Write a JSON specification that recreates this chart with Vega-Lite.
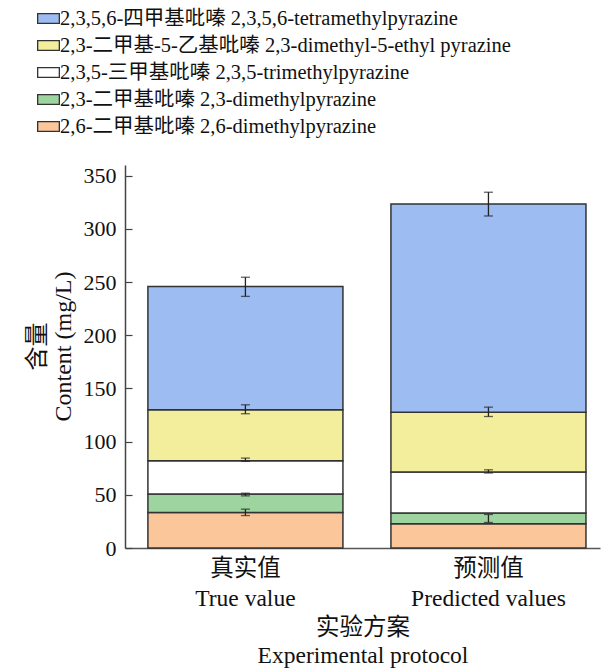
{
  "$schema": "https://vega.github.io/schema/vega-lite/v6.json",
  "width": 475,
  "height": 383,
  "padding": {"left": 125, "top": 165, "right": 5, "bottom": 123},
  "autosize": {"type": "none"},
  "background": "white",
  "config": {
    "view": {"stroke": null},
    "font": "Liberation Serif, Noto Sans CJK SC",
    "axis": {"labelFont": "Liberation Serif, Noto Sans CJK SC", "titleFont": "Liberation Serif, Noto Sans CJK SC", "labelColor": "#111", "titleColor": "#111", "titleFontWeight": "normal", "domainColor": "#444", "domainWidth": 1.5, "tickColor": "#444", "tickWidth": 1.2},
    "legend": {"labelFont": "Liberation Serif, Noto Sans CJK SC"}
  },
  "datasets": {
    "bars": [
      {"group": "真实值|True value", "comp": "2,6-二甲基吡嗪 2,6-dimethylpyrazine", "value": 33.4, "ord": 1},
      {"group": "真实值|True value", "comp": "2,3-二甲基吡嗪 2,3-dimethylpyrazine", "value": 17.3, "ord": 2},
      {"group": "真实值|True value", "comp": "2,3,5-三甲基吡嗪 2,3,5-trimethylpyrazine", "value": 31.3, "ord": 3},
      {"group": "真实值|True value", "comp": "2,3-二甲基-5-乙基吡嗪 2,3-dimethyl-5-ethyl pyrazine", "value": 47.9, "ord": 4},
      {"group": "真实值|True value", "comp": "2,3,5,6-四甲基吡嗪 2,3,5,6-tetramethylpyrazine", "value": 115.8, "ord": 5},
      {"group": "预测值|Predicted values", "comp": "2,6-二甲基吡嗪 2,6-dimethylpyrazine", "value": 22.8, "ord": 1},
      {"group": "预测值|Predicted values", "comp": "2,3-二甲基吡嗪 2,3-dimethylpyrazine", "value": 10.1, "ord": 2},
      {"group": "预测值|Predicted values", "comp": "2,3,5-三甲基吡嗪 2,3,5-trimethylpyrazine", "value": 38.5, "ord": 3},
      {"group": "预测值|Predicted values", "comp": "2,3-二甲基-5-乙基吡嗪 2,3-dimethyl-5-ethyl pyrazine", "value": 56.3, "ord": 4},
      {"group": "预测值|Predicted values", "comp": "2,3,5,6-四甲基吡嗪 2,3,5,6-tetramethylpyrazine", "value": 195.7, "ord": 5}
    ],
    "errs": [
      {"group": "真实值|True value", "low": 30.5, "high": 36.5},
      {"group": "真实值|True value", "low": 49, "high": 51.5},
      {"group": "真实值|True value", "low": 81.5, "high": 84.5},
      {"group": "真实值|True value", "low": 126.2, "high": 134.6},
      {"group": "真实值|True value", "low": 236.5, "high": 254.5},
      {"group": "预测值|Predicted values", "low": 24, "high": 31.5},
      {"group": "预测值|Predicted values", "low": 70.5, "high": 73.5},
      {"group": "预测值|Predicted values", "low": 123.6, "high": 132.4},
      {"group": "预测值|Predicted values", "low": 312.1, "high": 334.4}
    ]
  },
  "layer": [
    {
      "data": {"name": "bars"},
      "mark": {"type": "bar", "stroke": "#333", "strokeWidth": 1.5},
      "encoding": {
        "x": {
          "field": "group", "type": "nominal", "sort": null,
          "scale": {"paddingInner": 0.1975, "paddingOuter": 0.076, "align": 0.62},
          "axis": {
            "labelExpr": "split(datum.label, '|')",
            "labelAngle": 0, "labelFontSize": 23.5, "labelLineHeight": 30, "labelPadding": 15,
            "tickSize": -7, "domainColor": "#555",
            "title": ["实验方案", "Experimental protocol"], "titleFontSize": 23.5, "titleLineHeight": 28, "titlePadding": 6
          }
        },
        "y": {
          "field": "value", "type": "quantitative", "stack": "zero",
          "scale": {"domain": [0, 360], "nice": false},
          "axis": {
            "values": [0, 25, 50, 75, 100, 125, 150, 175, 200, 225, 250, 275, 300, 325, 350],
            "labelExpr": "datum.value % 50 === 0 ? datum.label : ''",
            "tickSize": {"condition": {"test": "datum.value % 50 === 0", "value": -7}, "value": -4},
            "labelFontSize": 22, "labelPadding": 16, "grid": false,
            "title": ["含量", "Content (mg/L)"], "titleFontSize": 24, "titleLineHeight": 26, "titlePadding": 8, "titleY": 181
          }
        },
        "order": {"field": "ord", "type": "quantitative", "sort": "ascending"},
        "color": {
          "field": "comp", "type": "nominal",
          "scale": {
            "domain": ["2,3,5,6-四甲基吡嗪 2,3,5,6-tetramethylpyrazine", "2,3-二甲基-5-乙基吡嗪 2,3-dimethyl-5-ethyl pyrazine", "2,3,5-三甲基吡嗪 2,3,5-trimethylpyrazine", "2,3-二甲基吡嗪 2,3-dimethylpyrazine", "2,6-二甲基吡嗪 2,6-dimethylpyrazine"],
            "range": ["#9dbcf1", "#f2ee9c", "#ffffff", "#9ed49f", "#fbc69a"]
          },
          "legend": {
            "orient": "none", "legendX": -88, "legendY": -158, "title": null,
            "symbolType": "M-1,-0.45L1,-0.45L1,0.45L-1,0.45Z", "symbolSize": 470,
            "symbolStrokeColor": "#333", "symbolStrokeWidth": 1.3,
            "labelFontSize": 20.5, "labelColor": "#111", "labelLimit": 700, "labelOffset": 0, "rowPadding": 5
          }
        }
      }
    },
    {
      "data": {"name": "errs"},
      "mark": {"type": "rule", "color": "#222", "strokeWidth": 1.3},
      "encoding": {
        "x": {"field": "group", "type": "nominal", "sort": null},
        "y": {"field": "low", "type": "quantitative"},
        "y2": {"field": "high"}
      }
    },
    {
      "data": {"name": "errs"},
      "mark": {"type": "tick", "color": "#222", "size": 9, "thickness": 1.3},
      "encoding": {
        "x": {"field": "group", "type": "nominal", "sort": null},
        "y": {"field": "low", "type": "quantitative"}
      }
    },
    {
      "data": {"name": "errs"},
      "mark": {"type": "tick", "color": "#222", "size": 9, "thickness": 1.3},
      "encoding": {
        "x": {"field": "group", "type": "nominal", "sort": null},
        "y": {"field": "high", "type": "quantitative"}
      }
    }
  ]
}
